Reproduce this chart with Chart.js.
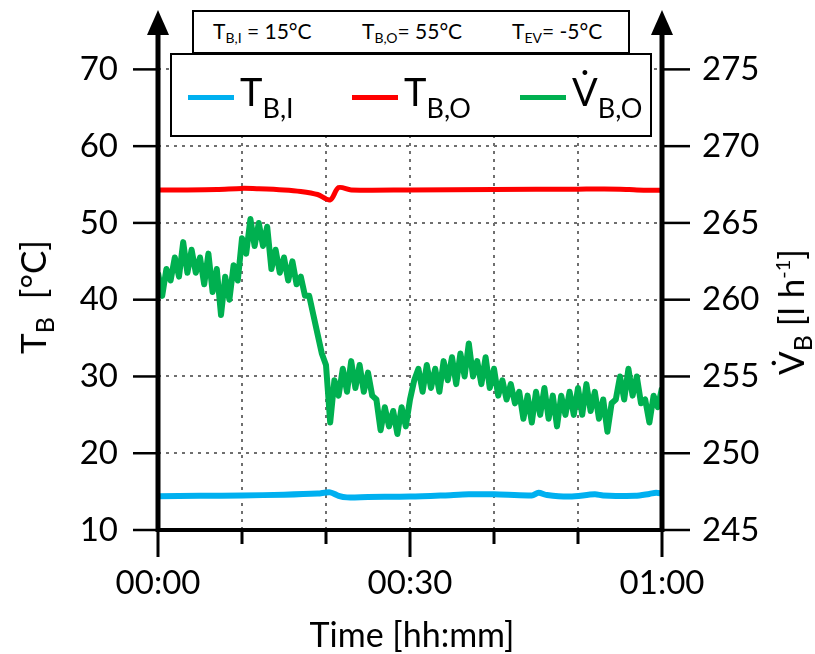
<!DOCTYPE html>
<html>
<head>
  <meta name="viewport" content="width=device-width, initial-scale=1.0">
  <title>Brine temperatures and volume flow</title>
  <script src="https://cdn.jsdelivr.net/npm/chart.js@4"></script>
  <style>
    body {
      margin: 0;
      background: #ffffff;
      font-family: Lato, "Noto Sans", sans-serif;
      color: #000;
    }
    #wrap {
      position: relative;
      width: 815px;
      height: 654px;
    }
    .box {
      position: absolute;
      box-sizing: border-box;
      border: 2px solid #000;
      background: #fff;
    }
    .box span.t {
      position: absolute;
      white-space: nowrap;
    }
    #cond { left: 192px; top: 10px; width: 438px; height: 44px; }
    #cond span.t { font-size: 21px; line-height: 21px; top: 8px; }
    #cond sub { font-size: 14px; vertical-align: -4px; line-height: 0; }
    #legend { left: 170px; top: 53px; width: 482px; height: 84px; }
    .item { position: absolute; top: 0; height: 80px; }
    .item .ln { position: absolute; left: 0; top: 40px; width: 46px; height: 5px; }
    .item span.t { left: 52px; top: 17px; font-size: 38px; line-height: 38px; }
    .item sub { font-size: 27px; vertical-align: -12px; line-height: 0; }
    .title { position: absolute; white-space: nowrap; font-size: 35px; line-height: 40px; }
    .title sub { font-size: 25px; vertical-align: -8px; line-height: 0; }
    .title sup { font-size: 20px; vertical-align: 14px; line-height: 0; }
    #ytitle { left: 32px; top: 297px; transform: translate(-50%, -50%) rotate(-90deg); }
    #y2title { left: 790px; top: 312px; transform: translate(-50%, -50%) rotate(-90deg); }
    #xtitle { left: 412px; top: 634px; transform: translate(-50%, -50%); font-size: 34px; }
  </style>
</head>
<body>
  <div id="wrap">
    <canvas id="chart" width="815" height="654"></canvas>

    <div id="cond" class="box">
      <span class="t" style="left:19px">T<sub>B,I</sub> = 15°C</span>
      <span class="t" style="left:168px">T<sub>B,O</sub>= 55°C</span>
      <span class="t" style="left:318px">T<sub>EV</sub>= -5°C</span>
    </div>

    <div id="legend" class="box">
      <div class="item" style="left:16px"><div class="ln" style="background:#00B0F0"></div><span class="t">T<sub>B,I</sub></span></div>
      <div class="item" style="left:180px"><div class="ln" style="background:#FF0000"></div><span class="t">T<sub>B,O</sub></span></div>
      <div class="item" style="left:348px"><div class="ln" style="background:#00B050"></div><span class="t">V&#775;<sub>B,O</sub></span></div>
    </div>

    <div id="ytitle" class="title">T<sub>B</sub>&nbsp; [°C]</div>
    <div id="y2title" class="title">V&#775;<sub>B</sub> [l h<sup>-1</sup>]</div>
    <div id="xtitle" class="title">Time [hh:mm]</div>
  </div>

  <script>
    // Ticks
    const xTicks = [0, 10, 20, 30, 40, 50, 60];          // minutes
    const xTickLabels = ['00:00', '', '', '00:30', '', '', '01:00'];
    const yTicks = [10, 20, 30, 40, 50, 60, 70];         // °C
    const y2Ticks = [245, 250, 255, 260, 265, 270, 275]; // l/h

    // T_B,I (inlet), °C
    const inletTime = [0, 5, 10, 15, 19, 20.5, 21.5, 22.5, 25, 30, 34, 37, 40, 44.5, 45.3, 46.3, 49, 52, 53, 56.8, 58.5, 59.3, 60];
    const inletTemp = [14.4, 14.45, 14.5, 14.6, 14.75, 14.9, 14.45, 14.25, 14.3, 14.35, 14.5, 14.65, 14.65, 14.5, 14.85, 14.55, 14.35, 14.65, 14.5, 14.45, 14.7, 14.85, 14.75];

    // T_B,O (outlet), °C
    const outletTime = [0, 3, 7, 10, 12, 15, 17, 19, 20.5, 21.5, 23, 30, 40, 50, 55, 57, 60];
    const outletTemp = [54.3, 54.3, 54.35, 54.5, 54.45, 54.3, 54.1, 53.7, 53.0, 54.6, 54.3, 54.3, 54.35, 54.4, 54.4, 54.3, 54.25];

    // V_B,O volume flow, l/h, one sample every half minute
    const flowStep = 0.5;
    const flowRate = [
      261.75, 260.25, 262, 261.25, 262.75, 261.5, 263.75, 261.75, 263.25, 261.75,
      262.75, 261, 263, 260.5, 262, 259, 261.5, 260, 262.25, 261.25,
      264, 263, 265.25, 263.5, 265, 263.5, 264.75, 262, 263.25, 261.75,
      262.75, 261.25, 262.5, 261, 261.5, 260.25, 260.25, 259, 257.75, 256.5,
      255.75, 252, 254.75, 253.75, 255.5, 254, 256, 254.25, 255.75, 254,
      255.25, 253.75, 253.5, 251.5, 253, 251.75, 252.75, 251.25, 253, 251.75,
      253.5, 254.75, 255.5, 254, 255.75, 254.25, 255.5, 254, 256, 254.75,
      256.25, 254.5, 256.5, 255, 257.15, 255, 256, 254.5, 256.25, 254.25,
      255.5, 253.75, 254.75, 253.5, 254.5, 253.25, 254, 252.25, 253.75, 252,
      254, 252.5, 254.25, 252.25, 253.75, 251.75, 253.75, 252.5, 254, 252.5,
      254.25, 252.5, 254.5, 252.75, 254, 252.25, 253.5, 251.4, 253.25, 253.5,
      255, 253.5, 255.5, 253.75, 255, 253.25, 253.5, 252, 253.75, 253,
      254.25
    ];

    const toPoints = (xs, ys) => xs.map((x, i) => ({ x: x, y: ys[i] }));

    // thick axis lines, tick marks and the arrow heads
    const axisPlugin = {
      id: 'axes',
      afterDraw(chart) {
        const { ctx, chartArea: a, scales } = chart;
        const line = (x1, y1, x2, y2) => {
          ctx.beginPath(); ctx.moveTo(x1, y1); ctx.lineTo(x2, y2); ctx.stroke();
        };
        ctx.save();
        ctx.strokeStyle = '#000';
        ctx.fillStyle = '#000';
        ctx.lineWidth = 2.5;
        yTicks.forEach(v => { const p = scales.y.getPixelForValue(v); line(a.left - 25, p, a.left, p); });
        y2Ticks.forEach(v => { const p = scales.y2.getPixelForValue(v); line(a.right, p, a.right + 28, p); });
        ctx.lineWidth = 3;
        xTicks.forEach((v, i) => {
          const p = scales.x.getPixelForValue(v);
          line(p, a.bottom, p, a.bottom + (xTickLabels[i] ? 27 : 14));
        });
        ctx.lineWidth = 5;
        line(a.left, a.bottom + 2, a.left, a.top);
        line(a.right, a.bottom + 2, a.right, a.top);
        ctx.lineWidth = 4;
        line(a.left - 2, a.bottom, a.right + 2, a.bottom);
        [a.left, a.right].forEach(p => {
          ctx.beginPath();
          ctx.moveTo(p - 11, a.top + 4);
          ctx.lineTo(p + 11, a.top + 4);
          ctx.lineTo(p, a.top - 21);
          ctx.closePath();
          ctx.fill();
        });
        ctx.restore();
      }
    };

    // fixed box sizes so the plot area sits where the reference has it
    const fixBox = (w, h) => s => {
      if (w) s.width = w;
      if (h) s.height = h;
      s.paddingTop = 0;
      s.paddingBottom = 0;
      s.paddingLeft = 0;
      s.paddingRight = 0;
    };

    Chart.defaults.font.family = 'Lato, "Noto Sans", sans-serif';
    Chart.defaults.color = '#000';

    const gridDots = { color: '#6f6f6f', lineWidth: 2, drawTicks: false };
    const tickFont = { size: 33 };

    new Chart(document.getElementById('chart'), {
      type: 'line',
      data: {
        datasets: [
          {
            label: 'V_B,O',
            data: flowRate.map((v, i) => ({ x: i * flowStep, y: v })),
            yAxisID: 'y2',
            borderColor: '#00B050',
            borderWidth: 6,
            borderJoinStyle: 'round',
            pointRadius: 0,
            tension: 0
          },
          {
            label: 'T_B,O',
            data: toPoints(outletTime, outletTemp),
            yAxisID: 'y',
            borderColor: '#FF0000',
            borderWidth: 5,
            pointRadius: 0,
            tension: 0.3
          },
          {
            label: 'T_B,I',
            data: toPoints(inletTime, inletTemp),
            yAxisID: 'y',
            borderColor: '#00B0F0',
            borderWidth: 6,
            pointRadius: 0,
            tension: 0.3
          }
        ]
      },
      options: {
        responsive: false,
        animation: false,
        layout: { padding: { top: 31, left: 0, right: 0, bottom: 0 } },
        plugins: { legend: { display: false }, tooltip: { enabled: false } },
        scales: {
          x: {
            type: 'linear',
            min: 0,
            max: 60,
            afterFit: fixBox(0, 124),
            afterBuildTicks: s => { s.ticks = xTicks.map(v => ({ value: v })); },
            ticks: {
              callback: (v, i) => xTickLabels[i],
              font: tickFont,
              padding: 34,
              maxRotation: 0,
              autoSkip: false
            },
            grid: gridDots,
            border: { display: false, dash: [3, 5] }
          },
          y: {
            position: 'left',
            min: 10,
            max: 75,
            afterFit: fixBox(158, 0),
            afterBuildTicks: s => { s.ticks = yTicks.map(v => ({ value: v })); },
            ticks: { font: tickFont, padding: 40 },
            grid: gridDots,
            border: { display: false, dash: [3, 5] }
          },
          y2: {
            position: 'right',
            min: 245,
            max: 277.5,
            afterFit: fixBox(153, 0),
            afterBuildTicks: s => { s.ticks = y2Ticks.map(v => ({ value: v })); },
            ticks: { font: tickFont, padding: 40 },
            grid: { display: false, drawTicks: false },
            border: { display: false }
          }
        }
      },
      plugins: [axisPlugin]
    });
  </script>
</body>
</html>
